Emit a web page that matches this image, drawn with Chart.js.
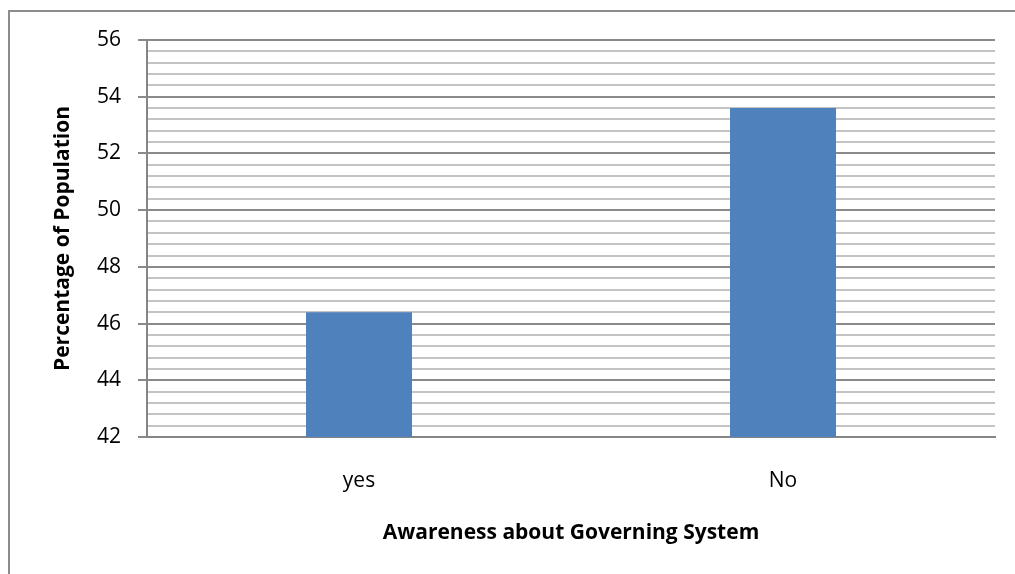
<!DOCTYPE html>
<html>
<head>
<meta charset="utf-8">
<script src="https://cdn.jsdelivr.net/npm/chart.js@4/dist/chart.umd.min.js"></script>
<style>
  html, body { margin: 0; padding: 0; background: #fff; }
  #wrap { position: relative; width: 1015px; height: 574px; overflow: hidden; }
  #frame { position: absolute; left: 8px; top: 10px; width: 1100px; height: 700px; border: 2px solid #8c8c8c; box-sizing: border-box; }
  canvas { position: absolute; left: 0; top: 0; }
</style>
</head>
<body>
<div id="wrap">
  <div id="frame"></div>
  <canvas id="c" width="1015" height="574"></canvas>
</div>
<script>
// Survey responses: share of population aware of the governing system
const categories = ['yes', 'No'];
const percentages = [46.4, 53.6];
const yTickLabels = [42, 44, 46, 48, 50, 52, 54, 56];

const FONT = '"Open Sans", "Liberation Sans", sans-serif';
const isMajor = v => yTickLabels.some(t => Math.abs(t - v) < 1e-6);

new Chart(document.getElementById('c'), {
  type: 'bar',
  data: {
    labels: categories,
    datasets: [{
      data: percentages,
      backgroundColor: '#4f81bd',
      borderWidth: 0,
      categoryPercentage: 0.25,
      barPercentage: 1
    }]
  },
  options: {
    responsive: false,
    animation: false,
    layout: { padding: { left: 46, right: 20, top: 40, bottom: 24 } },
    plugins: { legend: { display: false }, tooltip: { enabled: false } },
    scales: {
      x: {
        grid: { display: false, drawTicks: false },
        border: { display: true, color: '#868686', width: 2 },
        ticks: { color: '#000', font: { family: FONT, size: 21 }, padding: 31 },
        title: {
          display: true,
          text: 'Awareness about Governing System',
          color: '#000',
          font: { family: FONT, size: 21, weight: 'bold' }
        },
        afterFit: s => { s.height = 113; }
      },
      y: {
        min: yTickLabels[0],
        max: yTickLabels[yTickLabels.length - 1],
        ticks: {
          stepSize: 0.4,
          autoSkip: false,
          color: '#000',
          font: { family: FONT, size: 21 },
          padding: 17,
          callback: v => isMajor(v) ? String(Math.round(v)) : ''
        },
        grid: {
          drawTicks: true,
          tickLength: 9,
          lineWidth: 2,
          color: ctx => isMajor(ctx.tick.value) ? '#8a8a8a' : '#c4c4c4',
          tickColor: ctx => isMajor(ctx.tick.value) ? '#8a8a8a' : 'rgba(0,0,0,0)'
        },
        border: { display: true, color: '#868686', width: 2 },
        title: {
          display: true,
          text: 'Percentage of Population',
          color: '#000',
          font: { family: FONT, size: 21, weight: 'bold' }
        },
        afterFit: s => { s.width = 101; }
      }
    }
  }
});
</script>
</body>
</html>
